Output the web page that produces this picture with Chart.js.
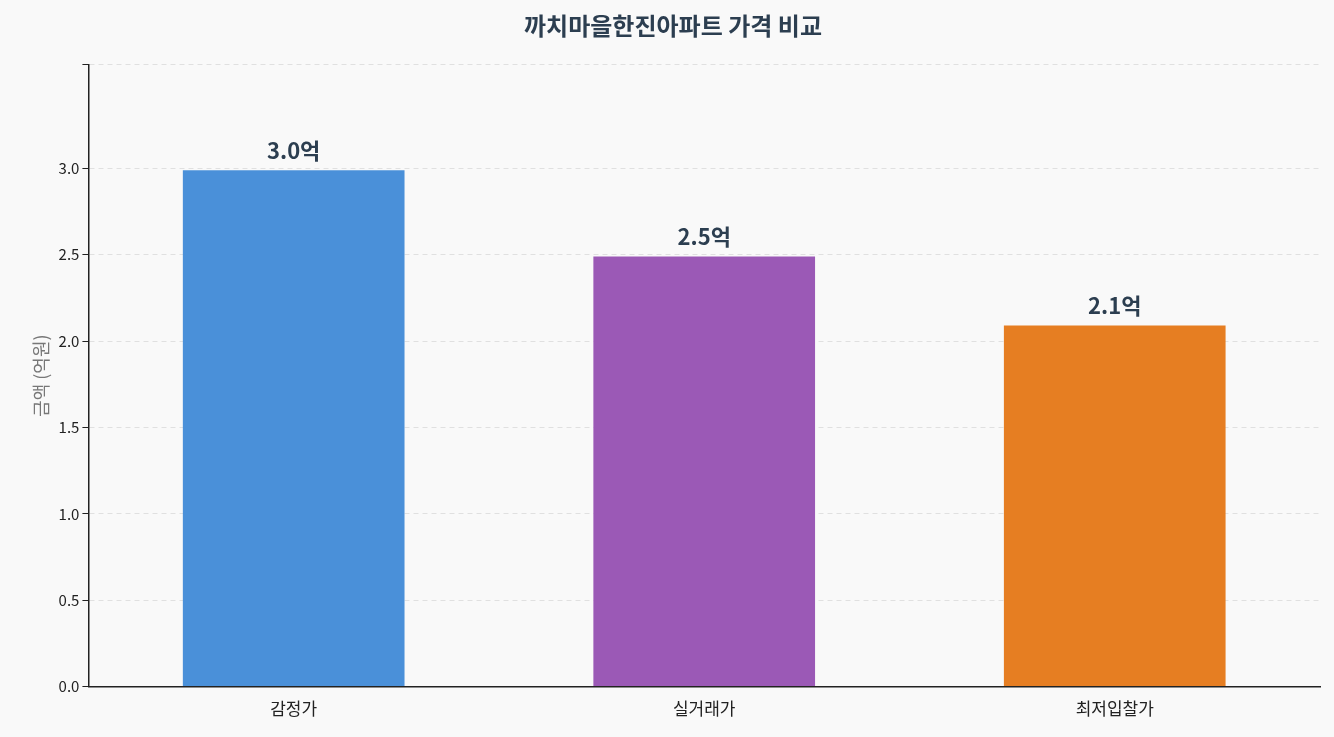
<!DOCTYPE html>
<html>
<head>
<meta charset="utf-8">
<script src="https://cdn.jsdelivr.net/npm/chart.js@4"></script>
<style>
  html, body { margin: 0; padding: 0; background: #f9f9f9; }
  #wrap { width: 1334px; height: 737px; }
</style>
</head>
<body>
<div id="wrap"><canvas id="myChart"></canvas></div>
<script>
const categories = ['감정가', '실거래가', '최저입찰가'];
const values = [2.99, 2.49, 2.09];
const valueLabels = ['3.0억', '2.5억', '2.1억'];
const barColors = ['#4a90d9', '#9b59b6', '#e67e22'];

const FONT = "'Noto Sans CJK KR', 'Noto Sans', sans-serif";

/* draw labels above bars */
const barLabels = {
  id: 'barLabels',
  afterDatasetsDraw(chart) {
    const ctx = chart.ctx;
    const meta = chart.getDatasetMeta(0);
    ctx.save();
    ctx.font = 'bold 22px ' + FONT;
    ctx.fillStyle = '#2c3e50';
    ctx.textAlign = 'center';
    ctx.textBaseline = 'bottom';
    meta.data.forEach(function(bar, i) {
      ctx.fillText(valueLabels[i], bar.x, bar.y - 9);
    });
    ctx.restore();
  }
};

const ctx = document.getElementById('myChart').getContext('2d');

const chart = new Chart(ctx, {
  type: 'bar',
  data: {
    labels: categories,
    datasets: [{
      data: values,
      backgroundColor: barColors,
      barPercentage: 0.54,
      categoryPercentage: 1,
    }],
  },
  options: {
    responsive: true,
    maintainAspectRatio: false,
    animation: false,
    layout: { padding: { top: 11, right: 14, left: 26, bottom: 14 } },
    plugins: {
      legend: { display: false },
      tooltip: { enabled: false },
      title: {
        display: true,
        text: '까치마을한진아파트 가격 비교',
        color: '#2c3e50',
        font: { family: FONT, size: 24, weight: 'bold' },
        padding: { top: 0, bottom: 25 },
      },
    },
    scales: {
      x: {
        grid: { display: false, drawTicks: true },
        border: { color: '#222', width: 1.5 },
        ticks: { color: '#222', font: { family: FONT, size: 17 }, padding: 4 },
      },
      y: {
        min: 0,
        max: 3.6,
        ticks: {
          stepSize: 0.5,
          color: '#222',
          font: { family: FONT, size: 15 },
          callback: function(v) { return v <= 3.5 ? v.toFixed(1) : ''; },
        },
        grid: { color: '#e0e0e0', tickColor: '#222', tickLength: 6, drawOnChartArea: true },
        border: { color: '#222', width: 1.5, dash: [5, 4] },
        title: {
          display: true,
          text: '금액 (억원)',
          color: '#777',
          font: { family: FONT, size: 18 },
        },
      },
    },
  },
  plugins: [barLabels],
});
</script>
</body>
</html>
